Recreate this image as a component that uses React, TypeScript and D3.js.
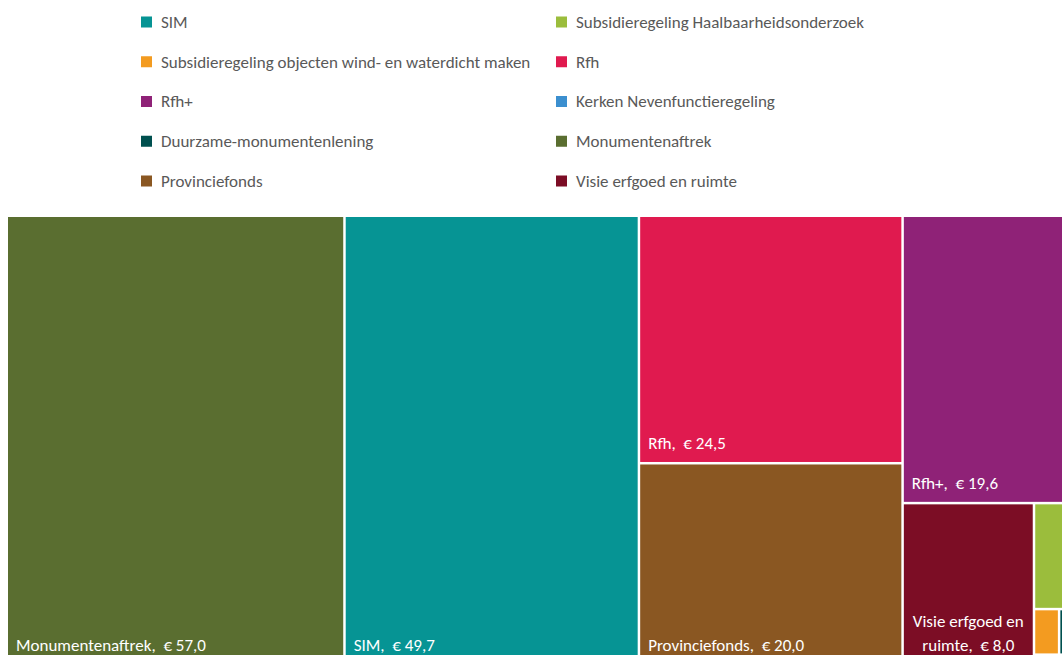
import React, { useEffect, useRef } from "react";
import * as d3 from "d3";

const categories = [
  "SIM",
  "Subsidieregeling Haalbaarheidsonderzoek",
  "Subsidieregeling objecten wind- en waterdicht maken",
  "Rfh",
  "Rfh+",
  "Kerken Nevenfunctieregeling",
  "Duurzame-monumentenlening",
  "Monumentenaftrek",
  "Provinciefonds",
  "Visie erfgoed en ruimte",
];
const values = [49.7, 2.0, 0.43, 24.5, 19.6, 0.2, 0.43, 57.0, 20.0, 8.0];
const colors = [
  "#069494",
  "#9bbd3c",
  "#f39b20",
  "#e01a4f",
  "#8f2277",
  "#3b8fcf",
  "#00504f",
  "#5a6e30",
  "#8a5722",
  "#7c0d25",
];

const WIDTH = 1062;
const HEIGHT = 655;
const TM_X = 8;
const TM_Y = 217;
const TM_W = 1075;
const TM_H = 447;
const FONT = "Carlito, Lato, 'Open Sans', sans-serif";
const FONT_SIZE = 17;

const locale = d3.formatLocale({
  decimal: ",",
  thousands: ".",
  grouping: [3],
  currency: ["€ ", ""],
});
const fmt = locale.format("$.1f");

// squarified tiling (ratio 1) with a small tolerance on row orientation
function squarifyTile(parent: any, x0: number, y0: number, x1: number, y1: number) {
  const nodes = parent.children;
  const n = nodes.length;
  let i0 = 0;
  let i1 = 0;
  let value = parent.value;
  while (i0 < n) {
    const dx = x1 - x0;
    const dy = y1 - y0;
    let sumValue = nodes[i1++].value;
    let minValue = sumValue;
    let maxValue = sumValue;
    const alpha = Math.max(dy / dx, dx / dy) / value;
    let beta = sumValue * sumValue * alpha;
    let minRatio = Math.max(maxValue / beta, beta / minValue);
    for (; i1 < n; ++i1) {
      const nv = nodes[i1].value;
      sumValue += nv;
      const mn = Math.min(minValue, nv);
      const mx = Math.max(maxValue, nv);
      beta = sumValue * sumValue * alpha;
      const newRatio = Math.max(mx / beta, beta / mn);
      if (newRatio > minRatio) {
        sumValue -= nv;
        break;
      }
      minValue = mn;
      maxValue = mx;
      minRatio = newRatio;
    }
    const row: any = { value: sumValue, children: nodes.slice(i0, i1) };
    if (dx < dy * 0.98) {
      const yy = value ? y0 + (dy * sumValue) / value : y1;
      d3.treemapDice(row, x0, y0, x1, yy);
      y0 = yy;
    } else {
      const xx = value ? x0 + (dx * sumValue) / value : x1;
      d3.treemapSlice(row, x0, y0, xx, y1);
      x0 = xx;
    }
    value -= sumValue;
    i0 = i1;
  }
}

export default function App() {
  const ref = useRef<SVGSVGElement>(null);

  useEffect(() => {
    const svg = d3.select(ref.current);
    svg.selectAll("*").remove();

    const canvas = document.createElement("canvas");
    const ctx = canvas.getContext("2d")!;
    ctx.font = `${FONT_SIZE}px ${FONT}`;
    const measure = (s: string) => ctx.measureText(s).width;

    // Legend
    const legend = svg.append("g");
    const colX = [141, 556];
    const rowY = d3.scalePoint<number>().domain(d3.range(5)).range([22, 181]);
    categories.forEach((c, i) => {
      const col = i % 2;
      const row = Math.floor(i / 2);
      const g = legend.append("g").attr("transform", `translate(${colX[col]},${rowY(row)})`);
      g.append("rect").attr("x", 0).attr("y", -5.5).attr("width", 11).attr("height", 11).attr("fill", colors[i]);
      g.append("text")
        .attr("x", 20)
        .attr("y", 0)
        .attr("dy", "0.35em")
        .attr("font-family", FONT)
        .attr("font-size", FONT_SIZE)
        .attr("fill", "#595959")
        .text(c);
    });

    // Treemap
    const data = {
      name: "root",
      children: categories.map((c, i) => ({ name: c, value: values[i], color: colors[i] })),
    };
    const root = d3
      .hierarchy<any>(data)
      .sum((d: any) => d.value ?? 0)
      .sort((a, b) => (b.value ?? 0) - (a.value ?? 0));
    d3.treemap<any>().tile(squarifyTile as any).size([TM_W, TM_H]).paddingInner(2.5)(root);

    const g = svg.append("g").attr("transform", `translate(${TM_X},${TM_Y})`);
    const leaves = root.leaves() as any[];
    g.selectAll("rect.cell")
      .data(leaves)
      .join("rect")
      .attr("class", "cell")
      .attr("x", (d) => d.x0)
      .attr("y", (d) => d.y0)
      .attr("width", (d) => d.x1 - d.x0)
      .attr("height", (d) => d.y1 - d.y0)
      .attr("fill", (d) => d.data.color);

    const lineH = 24;
    leaves.forEach((d) => {
      const w = d.x1 - d.x0;
      const h = d.y1 - d.y0;
      if (w < 60 || h < 40) return;
      const visibleBottom = Math.min(d.y1, HEIGHT - TM_Y + 9);
      const label = `${d.data.name},\u00A0 ${fmt(d.data.value)}`;
      const avail = w - 8;
      if (measure(label) <= w - 16) {
        g.append("text")
          .attr("x", d.x0 + 8)
          .attr("y", visibleBottom - 13)
          .attr("font-family", FONT)
          .attr("font-size", FONT_SIZE)
          .attr("fill", "#ffffff")
          .text(label);
      } else {
        const words = label.split(" ");
        const lines: string[] = [];
        let cur = "";
        words.forEach((wd) => {
          const test = cur ? cur + " " + wd : wd;
          if (measure(test) > avail && cur) {
            lines.push(cur);
            cur = wd;
          } else cur = test;
        });
        if (cur) lines.push(cur);
        const cx = (d.x0 + d.x1) / 2;
        lines.forEach((ln, k) => {
          g.append("text")
            .attr("x", cx)
            .attr("y", visibleBottom - 13 - (lines.length - 1 - k) * lineH)
            .attr("text-anchor", "middle")
            .attr("font-family", FONT)
            .attr("font-size", FONT_SIZE)
            .attr("fill", "#ffffff")
            .text(ln);
        });
      }
    });
  }, []);

  return (
    <svg
      ref={ref}
      width={WIDTH}
      height={HEIGHT}
      style={{ position: "absolute", left: 0, top: 0, overflow: "hidden" }}
    />
  );
}
